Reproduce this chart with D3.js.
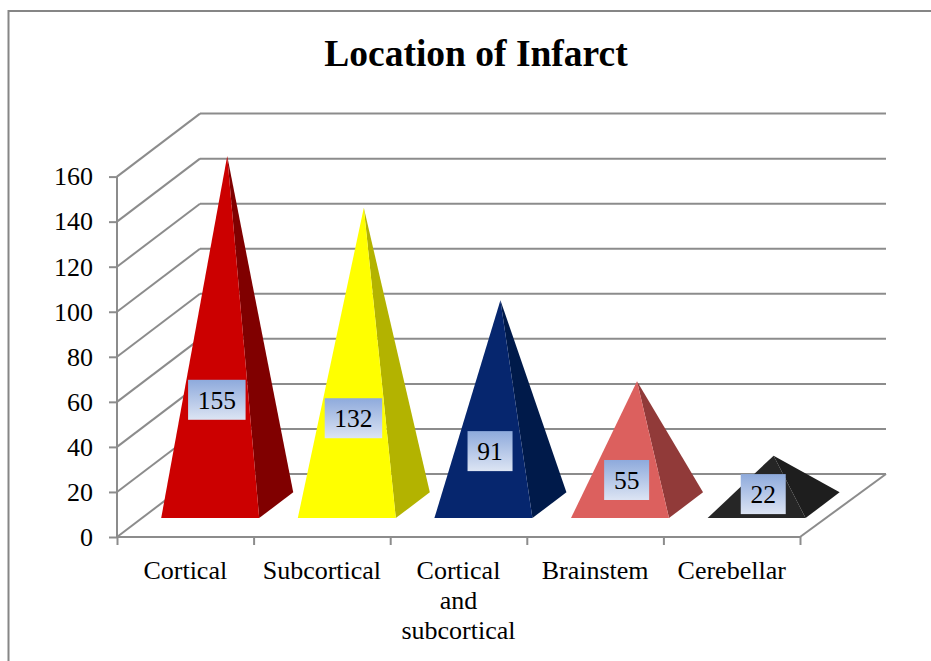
<!DOCTYPE html>
<html>
<head>
<meta charset="utf-8">
<script src="https://cdn.jsdelivr.net/npm/d3@7"></script>
<style>
  body { margin: 0; background: #fff; }
  svg { display: block; }
  text { font-family: "Liberation Serif", "Times New Roman", serif; fill: #000; }
</style>
</head>
<body>
<svg id="chart" width="931" height="661"></svg>
<script>
// data
const categories = ["Cortical", "Subcortical", "Cortical and subcortical", "Brainstem", "Cerebellar"];
const counts = [155, 132, 91, 55, 22];
const frontColors = ["#cc0000", "#ffff00", "#06266e", "#dc605e", "#262626"];
const sideColors = ["#800000", "#b3b300", "#001a4a", "#913a39", "#1e1e1e"];
const yTicks = [0, 20, 40, 60, 80, 100, 120, 140, 160];

const svg = d3.select("#chart");
const gridColor = "#8c8c8c";
const serif = '"Liberation Serif", "Times New Roman", serif';

// layout of the 3d box
const left = 117, right = 800, floorY = 537, topY = 176.6;
const depthX = 83, depthY = 63; // offset of the back wall

const x = d3.scaleBand().domain(categories).range([left, right]);
const idx = d3.scaleLinear().domain([0, categories.length]).range([left, right]);
const y = d3.scaleLinear().domain([0, 160]).range([floorY, topY]);

// point at front x, value and depth (0 = front, 1 = back)
function project(px, v, d) {
    return [px + d * depthX, y(v) - d * depthY];
}

// outer frame
svg.append("rect")
    .attr("x", 8.5).attr("y", 11)
    .attr("width", 1000).attr("height", 700)
    .attr("fill", "none")
    .attr("stroke", "#868686")
    .attr("stroke-width", 2);

// title
svg.append("text")
    .attr("x", 476).attr("y", 66)
    .attr("text-anchor", "middle")
    .style("font-family", serif)
    .style("font-size", "37.5px")
    .style("font-weight", "bold")
    .text("Location of Infarct");

// grid: side wall diagonals + back wall lines
const grid = svg.append("g")
    .attr("stroke", gridColor)
    .attr("stroke-width", 2)
    .attr("fill", "none");

grid.selectAll(".diag")
    .data(yTicks)
    .enter()
    .append("line")
    .attr("x1", left).attr("y1", d => y(d))
    .attr("x2", left + depthX).attr("y2", d => y(d) - depthY);

grid.selectAll(".back")
    .data(yTicks)
    .enter()
    .append("line")
    .attr("x1", left + depthX).attr("y1", d => y(d) - depthY)
    .attr("x2", right + depthX + 3).attr("y2", d => y(d) - depthY);

// floor right edge
grid.append("line")
    .attr("x1", right).attr("y1", floorY)
    .attr("x2", right + depthX + 3).attr("y2", floorY - depthY);

// y axis
const yAxis = svg.append("g")
    .attr("transform", `translate(${left},0)`)
    .call(d3.axisLeft(y).tickValues(yTicks).tickSize(8).tickPadding(16));
yAxis.selectAll("path, line").attr("stroke", gridColor).attr("stroke-width", 2);
yAxis.select(".domain").attr("d", `M0,${y(0)}V${y(160)}`);
yAxis.selectAll("text")
    .style("font-family", serif)
    .style("font-size", "26px")
    .attr("fill", "#000");

// x axis (ticks at category boundaries)
const xAxis = svg.append("g")
    .attr("transform", `translate(0,${floorY})`)
    .call(d3.axisBottom(idx).ticks(categories.length).tickSize(8).tickFormat(""));
xAxis.selectAll("path, line").attr("stroke", gridColor).attr("stroke-width", 2);
xAxis.select(".domain").attr("d", `M${left},0H${right}`);

// category labels, wrapped
const catLabels = svg.append("g");
categories.forEach(c => {
    const cx = x(c) + x.bandwidth() / 2;
    const t = catLabels.append("text")
        .attr("text-anchor", "middle")
        .style("font-family", serif)
        .style("font-size", "26px")
        .attr("x", cx)
        .attr("y", 579);
    const words = c.split(" ");
    let line = [];
    let tspan = t.append("tspan").attr("x", cx).attr("dy", 0);
    words.forEach(w => {
        line.push(w);
        tspan.text(line.join(" "));
        if (tspan.node().getComputedTextLength() > 122 && line.length > 1) {
            line.pop();
            tspan.text(line.join(" "));
            line = [w];
            tspan = t.append("tspan").attr("x", cx).attr("dy", 30).text(w);
        }
    });
});

// pyramids
const halfW = 49, dFront = 0.3, dBack = 0.71, dMid = (dFront + dBack) / 2;
const pyramids = svg.append("g");
const data = categories.map((c, i) => ({ c: c, v: counts[i], front: frontColors[i], side: sideColors[i] }));

data.forEach(d => {
    const cx = x(d.c) + x.bandwidth() / 2;
    const fl = project(cx - halfW, 0, dFront);
    const fr = project(cx + halfW, 0, dFront);
    const br = project(cx + halfW, 0, dBack);
    const apex = project(cx, d.v, dMid);
    pyramids.append("path")
        .attr("d", d3.line()([fr, br, apex]) + "Z")
        .attr("fill", d.side);
    pyramids.append("path")
        .attr("d", d3.line()([fl, fr, apex]) + "Z")
        .attr("fill", d.front);
});

// value labels
const defs = svg.append("defs");
const grad = defs.append("linearGradient")
    .attr("id", "lblGrad")
    .attr("x1", 0).attr("y1", 0).attr("x2", 0).attr("y2", 1);
grad.append("stop").attr("offset", "0%").attr("stop-color", "#8eaadc");
grad.append("stop").attr("offset", "100%").attr("stop-color", "#dce4f3");

const labels = svg.append("g");
data.forEach(d => {
    const cx = x(d.c) + x.bandwidth() / 2;
    const baseFront = project(cx, 0, dFront);
    const off = Math.max(0.802 * d.v - 6, 24);
    const lx = cx + 0.38 * depthX;
    const ly = baseFront[1] - off;
    const txt = String(d.v);
    const w = txt.length * 12.5 + 20;
    labels.append("rect")
        .attr("x", lx - w / 2).attr("y", ly - 20)
        .attr("width", w).attr("height", 40)
        .attr("fill", "url(#lblGrad)");
    labels.append("text")
        .attr("x", lx).attr("y", ly + 9)
        .attr("text-anchor", "middle")
        .style("font-family", serif)
        .style("font-size", "25.5px")
        .text(txt);
});
</script>
</body>
</html>
